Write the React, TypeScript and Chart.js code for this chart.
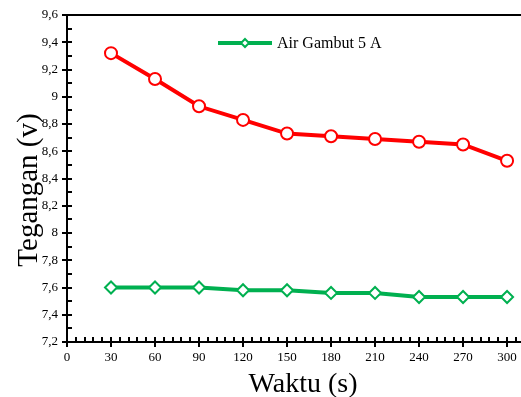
import React, { useEffect, useRef } from "react";
import { Chart, registerables } from "chart.js";

Chart.register(...registerables);

const times = [30, 60, 90, 120, 150, 180, 210, 240, 270, 300];
const redValues = [9.32, 9.13, 8.93, 8.83, 8.73, 8.71, 8.69, 8.67, 8.65, 8.53];
const greenValues = [7.6, 7.6, 7.6, 7.58, 7.58, 7.56, 7.56, 7.53, 7.53, 7.53];
const legendLabel = "Air Gambut 5 A";
const xTitle = "Waktu (s)";
const yTitle = "Tegangan (v)";

const SERIF = "'Liberation Serif', 'Times New Roman', serif";

const fmtY = (v: number) => String(Math.round(v * 10) / 10).replace(".", ",");

const decorPlugin = {
  id: "decor",
  afterDraw(chart: any) {
    const ctx = chart.ctx;
    const area = chart.chartArea;
    const xs = chart.scales.x;
    const ys = chart.scales.y;
    ctx.save();
    ctx.strokeStyle = "#000";
    ctx.lineWidth = 2;
    ctx.beginPath();
    ctx.moveTo(area.left, area.top);
    ctx.lineTo(chart.width, area.top);
    ctx.stroke();
    for (let v = 7.2; v <= 9.6001; v += 0.1) {
      const y = Math.round(ys.getPixelForValue(v));
      const major = Math.round(v * 10) % 2 === 0;
      ctx.beginPath();
      ctx.moveTo(area.left - (major ? 5 : 0), y);
      ctx.lineTo(area.left + 5, y);
      ctx.stroke();
    }
    for (let v = 0; v <= 310; v += 6) {
      const x = Math.round(xs.getPixelForValue(v));
      const major = v % 30 === 0;
      ctx.beginPath();
      ctx.moveTo(x, area.bottom - 5);
      ctx.lineTo(x, area.bottom + (major ? 5 : 0));
      ctx.stroke();
    }
    ctx.fillStyle = "#000";
    ctx.font = `28px ${SERIF}`;
    ctx.textAlign = "center";
    ctx.textBaseline = "alphabetic";
    ctx.fillText(xTitle, 303, 392);
    ctx.save();
    ctx.translate(37, 190);
    ctx.rotate(-Math.PI / 2);
    ctx.font = `29px ${SERIF}`;
    ctx.fillText(yTitle, 0, 0);
    ctx.restore();
    const ly = 43;
    ctx.strokeStyle = "#00b050";
    ctx.lineWidth = 4;
    ctx.beginPath();
    ctx.moveTo(218, ly);
    ctx.lineTo(272, ly);
    ctx.stroke();
    ctx.fillStyle = "#ffffff";
    ctx.lineWidth = 2;
    ctx.beginPath();
    ctx.moveTo(245, ly - 4);
    ctx.lineTo(249, ly);
    ctx.lineTo(245, ly + 4);
    ctx.lineTo(241, ly);
    ctx.closePath();
    ctx.fill();
    ctx.stroke();
    ctx.fillStyle = "#000";
    ctx.font = `16px ${SERIF}`;
    ctx.textAlign = "left";
    ctx.textBaseline = "middle";
    ctx.fillText(legendLabel, 277, ly + 1);
    ctx.restore();
  },
};

export default function App() {
  const ref = useRef<HTMLCanvasElement | null>(null);
  useEffect(() => {
    document.body.style.margin = "0";
    const canvas = ref.current;
    if (!canvas) return;
    const chart = new Chart(canvas, {
      type: "line",
      data: {
        datasets: [
          {
            label: "Red",
            data: times.map((t, i) => ({ x: t, y: redValues[i] })),
            borderColor: "#ff0000",
            backgroundColor: "#ffffff",
            borderWidth: 4,
            pointStyle: "circle",
            pointRadius: 6,
            pointBorderWidth: 2,
            pointBorderColor: "#ff0000",
            pointBackgroundColor: "#ffffff",
          },
          {
            label: legendLabel,
            data: times.map((t, i) => ({ x: t, y: greenValues[i] })),
            borderColor: "#00b050",
            backgroundColor: "#ffffff",
            borderWidth: 4,
            pointStyle: "rectRot",
            pointRadius: 6,
            pointBorderWidth: 2,
            pointBorderColor: "#00b050",
            pointBackgroundColor: "#ffffff",
          },
        ],
      },
      options: {
        animation: false,
        responsive: false,
        maintainAspectRatio: false,
        layout: { autoPadding: false, padding: { top: 15, right: 0, left: 0, bottom: 0 } },
        plugins: { legend: { display: false }, tooltip: { enabled: false } },
        scales: {
          x: {
            type: "linear",
            min: 0,
            max: 309.5,
            afterFit: (s: any) => {
              s.height = 55;
              s.paddingRight = 0;
              s.paddingLeft = 0;
            },
            grid: { display: true, drawOnChartArea: false, drawTicks: false },
            border: { display: true, color: "#000", width: 2 },
            ticks: {
              stepSize: 30,
              includeBounds: false,
              padding: 8,
              color: "#000",
              font: { family: SERIF, size: 13 },
              maxRotation: 0,
            },
          },
          y: {
            type: "linear",
            min: 7.2,
            max: 9.6,
            afterFit: (s: any) => {
              s.width = 67;
              s.paddingTop = 0;
              s.paddingBottom = 0;
            },
            grid: { display: true, drawOnChartArea: false, drawTicks: false },
            border: { display: true, color: "#000", width: 2 },
            ticks: {
              stepSize: 0.2,
              padding: 9,
              color: "#000",
              font: { family: SERIF, size: 13 },
              callback: (v: any) => fmtY(Number(v)),
            },
          },
        },
      },
      plugins: [decorPlugin],
    });
    return () => chart.destroy();
  }, []);
  return (
    <div style={{ position: "absolute", left: 0, top: 0, width: 521, height: 397 }}>
      <canvas ref={ref} width={521} height={397} style={{ width: 521, height: 397 }} />
    </div>
  );
}
